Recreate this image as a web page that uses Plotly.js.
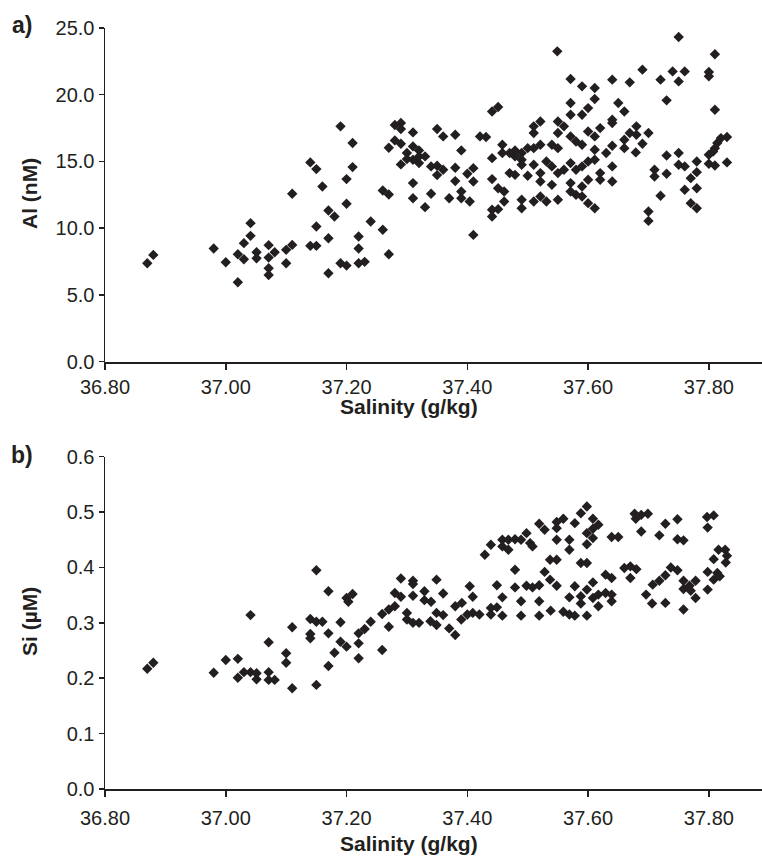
<!DOCTYPE html>
<html>
<head>
<meta charset="utf-8">
<script src="https://cdn.plot.ly/plotly-3.0.1.min.js"></script>
<style>html,body{margin:0;padding:0;background:#fff;}#chart{width:762px;height:857px;}</style>
</head>
<body>
<div id="chart"></div>
<script>
// Panel a) Al vs salinity
const alSalinity = [
36.870,36.880,36.980,37.000,37.020,37.020,37.030,37.030,37.041,37.041,37.051,37.051,37.071,37.071,37.071,37.071,37.081,37.100,37.100,37.110,37.110,37.140,37.150,37.150,37.140,37.150,37.160,
37.190,37.210,37.210,37.200,37.200,37.170,37.180,37.170,37.170,37.190,37.200,37.220,37.220,37.220,37.230,37.240,37.260,37.270,37.260,37.270,37.280,37.290,37.290,37.270,37.280,37.290,37.300,37.310,37.310,37.320,37.320,37.310,37.300,37.330,37.320,37.290,37.310,37.310,37.330,37.340,37.340,37.350,37.350,37.360,37.350,37.360,37.380,37.390,37.380,37.380,37.370,37.390,37.390,37.400,37.404,
37.549,37.410,37.421,37.431,37.441,37.451,37.410,37.410,37.441,37.441,37.451,37.461,37.461,37.451,37.441,37.441,37.458,37.458,37.470,37.479,37.479,37.490,37.490,37.490,37.470,37.479,37.500,37.500,37.510,37.510,37.521,37.510,37.521,37.510,37.490,37.490,37.510,37.521,37.521,37.521,37.531,37.531,37.540,37.540,37.540,37.550,37.550,37.550,37.550,37.560,37.550,37.560,37.571,37.571,37.571,37.571,37.571,37.571,37.571,37.580,37.580,37.580,37.590,37.590,37.590,37.590,37.590,37.590,37.600,37.600,37.600,37.600,37.600,37.611,37.611,37.611,37.611,37.611,37.611,37.620,37.620,37.620,37.630,
37.750,37.810,37.690,37.640,37.669,37.720,37.740,37.760,37.750,37.800,37.800,37.730,37.810,37.650,37.660,37.640,37.640,37.680,37.669,37.680,37.700,37.660,37.690,37.640,37.660,37.679,37.640,37.640,37.730,37.750,37.750,37.760,37.780,37.710,37.710,37.730,37.780,37.770,37.760,37.780,37.720,37.770,37.780,37.700,37.700,37.830,37.820,37.814,37.810,37.800,37.800,37.810,37.830,37.807
];
const alValues = [
7.38,8.00,8.48,7.45,5.95,8.05,7.68,8.88,9.43,10.38,8.20,7.75,8.73,7.80,7.00,6.50,8.20,7.38,8.38,8.75,12.58,14.93,14.43,10.13,8.68,8.68,13.13,
17.63,16.38,14.58,13.68,11.83,11.33,10.88,9.25,6.63,7.38,7.20,9.38,8.48,7.38,7.48,10.50,9.88,8.05,12.83,12.53,17.73,17.88,17.43,16.03,16.58,16.33,15.63,16.13,17.18,15.83,15.38,15.13,15.18,15.38,14.88,14.78,13.38,12.25,11.58,12.58,14.63,14.68,13.98,14.38,17.43,16.88,17.00,15.83,14.53,13.53,12.25,12.75,12.25,14.08,12.00,
23.25,9.50,16.88,16.83,18.75,19.08,14.50,13.50,15.25,13.68,13.00,12.75,12.00,11.43,10.88,11.38,16.25,15.63,15.63,15.83,15.38,15.63,15.13,14.75,14.13,14.00,13.93,16.00,16.00,14.75,16.25,17.63,18.00,17.13,12.13,11.50,12.00,12.38,13.50,14.13,15.00,12.00,16.25,14.63,13.25,18.00,17.13,16.00,12.13,17.63,14.13,14.38,21.18,19.38,18.50,16.88,14.88,13.38,12.75,16.50,14.38,12.50,20.63,18.50,16.25,14.63,13.13,12.38,19.00,17.25,15.00,13.63,11.88,20.50,19.68,16.88,15.88,15.13,11.50,17.50,14.13,13.63,15.63,
24.33,23.03,21.88,21.13,20.93,21.13,21.75,21.75,21.00,21.70,21.38,19.58,18.88,19.38,18.75,18.13,17.88,17.63,17.13,17.00,17.13,16.63,16.33,16.18,16.00,15.68,14.63,13.50,15.45,15.63,14.75,14.63,15.00,14.38,13.88,14.08,14.20,13.75,12.88,13.00,12.43,11.88,11.50,11.25,10.55,16.83,16.75,16.38,16.00,15.50,14.83,14.70,14.93,15.75
];

// Panel b) Si vs salinity
const siSalinity = [
36.870,36.880,36.980,37.000,37.020,37.020,37.030,37.041,37.041,37.051,37.051,37.071,37.071,37.071,37.081,37.100,37.100,37.110,37.110,37.140,37.140,37.140,37.150,37.150,37.150,
37.160,37.170,37.170,37.170,37.180,37.190,37.190,37.200,37.200,37.210,37.203,37.220,37.220,37.220,37.230,37.240,37.259,37.259,37.270,37.270,37.280,37.290,37.290,37.280,37.300,37.300,37.310,37.320,37.310,37.310,37.310,37.329,37.329,37.340,37.349,37.360,37.349,37.360,37.339,37.349,37.370,37.380,37.380,37.391,37.400,37.404,
37.390,37.409,37.409,37.420,37.429,37.439,37.439,37.439,37.449,37.449,37.458,37.458,37.458,37.458,37.468,37.468,37.479,37.479,37.479,37.489,37.489,37.489,37.498,37.498,37.504,37.508,37.508,37.519,37.519,37.519,37.519,37.528,37.528,37.537,37.537,37.538,37.548,37.548,37.548,37.548,37.548,37.559,37.559,37.569,37.569,37.569,37.569,37.578,37.578,37.578,37.588,37.588,37.588,37.588,37.598,37.598,37.598,37.598,37.598,37.598,37.608,37.608,37.608,37.608,37.608,37.617,37.617,37.617,37.629,37.629,
37.639,37.639,37.650,37.639,37.639,37.660,37.670,37.680,37.670,37.677,37.679,37.688,37.699,37.688,37.728,37.748,37.718,37.748,37.758,37.737,37.748,37.728,37.718,37.707,37.696,37.706,37.728,37.758,37.758,37.768,37.778,37.778,37.798,37.758,37.797,37.808,37.798,37.816,37.827,37.830,37.828,37.808,37.798,37.814,37.818,37.808,37.770
];
const siValues = [
0.217,0.228,0.210,0.233,0.235,0.201,0.211,0.314,0.211,0.209,0.198,0.265,0.211,0.197,0.197,0.245,0.228,0.292,0.182,0.307,0.280,0.272,0.302,0.395,0.188,
0.302,0.357,0.281,0.222,0.246,0.301,0.266,0.257,0.345,0.352,0.338,0.263,0.236,0.281,0.289,0.302,0.251,0.316,0.293,0.324,0.354,0.380,0.347,0.330,0.318,0.306,0.300,0.300,0.376,0.370,0.349,0.357,0.341,0.338,0.378,0.353,0.318,0.314,0.303,0.296,0.290,0.278,0.330,0.336,0.315,0.366,
0.306,0.347,0.318,0.315,0.423,0.441,0.327,0.315,0.368,0.328,0.450,0.438,0.346,0.313,0.432,0.450,0.451,0.396,0.364,0.339,0.313,0.450,0.462,0.367,0.444,0.438,0.364,0.479,0.368,0.339,0.313,0.468,0.392,0.414,0.378,0.322,0.482,0.471,0.450,0.414,0.367,0.320,0.488,0.450,0.432,0.346,0.315,0.480,0.366,0.313,0.498,0.408,0.348,0.335,0.510,0.462,0.442,0.408,0.360,0.313,0.488,0.470,0.453,0.373,0.345,0.477,0.351,0.330,0.387,0.354,
0.381,0.455,0.455,0.351,0.339,0.399,0.402,0.397,0.381,0.497,0.488,0.495,0.497,0.465,0.479,0.487,0.458,0.451,0.449,0.400,0.395,0.386,0.376,0.369,0.351,0.335,0.336,0.376,0.361,0.367,0.376,0.345,0.360,0.324,0.491,0.494,0.472,0.432,0.432,0.421,0.409,0.415,0.392,0.390,0.384,0.378,0.358
];

const xTickVals = [36.8, 37.0, 37.2, 37.4, 37.6, 37.8];
const xTickText = ['36.80', '37.00', '37.20', '37.40', '37.60', '37.80'];
const alTickVals = [0, 5, 10, 15, 20, 25];
const siTickVals = [0, 0.1, 0.2, 0.3, 0.4, 0.5, 0.6];

const W = 762, H = 857;
const M = {l: 105, r: 0, t: 28, b: 68};
const plotH = H - M.t - M.b;
const plotW = W - M.l - M.r;
function py(p) { return (H - M.b - p) / plotH; }
function px(p) { return (p - M.l) / plotW; }

const ink = '#231f20';
const fam = 'Liberation Sans, Arial, sans-serif';
const tickFont = {family: fam, size: 20, color: ink};
const titleFont = {family: fam, size: 21, color: ink, weight: 'bold'};
const panelFont = {family: fam, size: 23, color: ink, weight: 'bold'};

const marker = {symbol: 'diamond', size: 8, color: ink, line: {width: 0}};

const traces = [
  {x: alSalinity, y: alValues, type: 'scatter', mode: 'markers', marker: marker, xaxis: 'x', yaxis: 'y', hoverinfo: 'x+y'},
  {x: siSalinity, y: siValues, type: 'scatter', mode: 'markers', marker: marker, xaxis: 'x2', yaxis: 'y2', hoverinfo: 'x+y'}
];

function xAxis(anchor, standoff) {
  return {
    anchor: anchor, domain: [0, 1], range: [36.8, 37.888],
    tickvals: xTickVals, ticktext: xTickText,
    ticks: 'outside', ticklen: 6, tickwidth: 1.5, tickcolor: ink,
    ticklabelstandoff: standoff,
    showline: true, linewidth: 2, linecolor: ink,
    showgrid: false, zeroline: false, tickfont: tickFont
  };
}
function yAxis(anchor, domain, range, vals) {
  return {
    anchor: anchor, domain: domain, range: range,
    tickvals: vals, tickformat: '.1f',
    ticks: 'outside', ticklen: 5, tickwidth: 1.5, tickcolor: ink,
    showline: true, linewidth: 1.5, linecolor: ink,
    showgrid: false, zeroline: false, tickfont: tickFont
  };
}

const layout = {
  width: W, height: H,
  margin: M,
  paper_bgcolor: '#fff', plot_bgcolor: '#fff',
  showlegend: false,
  xaxis: xAxis('y', 0),
  yaxis: yAxis('x', [py(361.7), 1], [0, 25], alTickVals),
  xaxis2: xAxis('y2', 4),
  yaxis2: yAxis('x2', [0, py(456.7)], [0, 0.6], siTickVals),
  annotations: [
    {text: 'a)', x: px(22), y: py(25), xref: 'paper', yref: 'paper', showarrow: false, xanchor: 'center', yanchor: 'middle', font: panelFont},
    {text: 'b)', x: px(22), y: py(455), xref: 'paper', yref: 'paper', showarrow: false, xanchor: 'center', yanchor: 'middle', font: panelFont},
    {text: 'Al (nM)', x: px(29), y: py(194), xref: 'paper', yref: 'paper', showarrow: false, textangle: -90, xanchor: 'center', yanchor: 'middle', font: titleFont},
    {text: 'Si (µM)', x: px(29), y: py(622), xref: 'paper', yref: 'paper', showarrow: false, textangle: -90, xanchor: 'center', yanchor: 'middle', font: titleFont},
    {text: 'Salinity (g/kg)', x: px(409), y: py(407), xref: 'paper', yref: 'paper', showarrow: false, xanchor: 'center', yanchor: 'middle', font: titleFont},
    {text: 'Salinity (g/kg)', x: px(409), y: py(843), xref: 'paper', yref: 'paper', showarrow: false, xanchor: 'center', yanchor: 'middle', font: titleFont}
  ]
};

Plotly.newPlot('chart', traces, layout, {displayModeBar: false, staticPlot: true});
</script>
</body>
</html>
